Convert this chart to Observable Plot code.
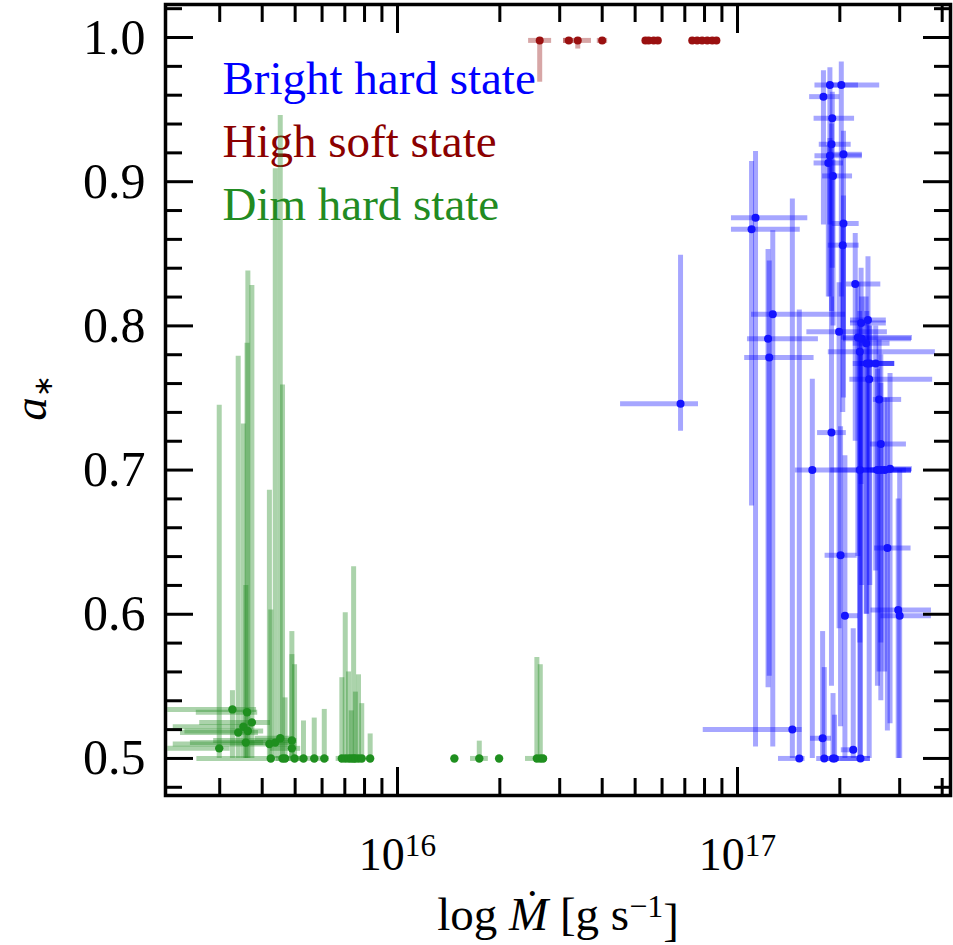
<!DOCTYPE html>
<html><head><meta charset="utf-8">
<script src="https://cdn.jsdelivr.net/npm/d3@7"></script>
<script src="https://cdn.jsdelivr.net/npm/@observablehq/plot@0.6"></script>
<style>body{margin:0;background:#fff;} #chart svg{display:block;}</style>
</head><body><div id="chart"></div>
<script>
const UNIT = 1e15; // accretion rates below are in units of 1e15 g/s
// rows: [Mdot, a*, Mdot_lo, Mdot_hi, a*_lo, a*_hi]
const brightHard = [
 [68.0, 0.746, 45.3, 76.8, 0.727, 0.849],
 [113, 0.875, 96.0, 161, 0.508, 0.921],
 [110, 0.867, 96.0, 153, 0.675, 0.914],
 [127, 0.808, 110, 208, 0.508, 0.866],
 [123, 0.791, 107, 173, 0.549, 0.853],
 [124, 0.778, 105, 168, 0.557, 0.845],
 [145, 0.520, 79.3, 155, 0.5, 0.888],
 [152, 0.500, 132, 158, 0.5, 0.811],
 [166, 0.700, 148, 325, 0.5, 0.763],
 [178, 0.514, 164, 189, 0.5, 0.588],
 [180, 0.500, 171, 246, 0.5, 0.563],
 [191, 0.500, 181, 200, 0.5, 0.545],
 [193, 0.500, 188, 200, 0.5, 0.530],
 [219, 0.506, 202, 225, 0.5, 0.590],
 [230, 0.500, 201, 246, 0.5, 0.780],
 [201, 0.641, 181, 225, 0.522, 0.730],
 [207, 0.599, 203, 227, 0.5, 0.710],
 [276, 0.646, 253, 324, 0.519, 0.750],
 [297, 0.603, 247, 372, 0.5, 0.680],
 [300, 0.599, 264, 372, 0.5, 0.700],
 [189, 0.726, 172, 209, 0.550, 0.820],
 [264, 0.718, 246, 314, 0.540, 0.780],
 [229, 0.700, 188, 264, 0.5, 0.800],
 [258, 0.700, 230, 325, 0.550, 0.770],
 [264, 0.700, 246, 314, 0.580, 0.760],
 [271, 0.700, 251, 325, 0.560, 0.750],
 [281, 0.701, 255, 327, 0.524, 0.767],
 [187, 0.967, 169, 227, 0.870, 0.979],
 [202, 0.967, 188, 262, 0.820, 0.983],
 [179, 0.959, 163, 200, 0.870, 0.977],
 [190, 0.944, 168, 221, 0.840, 0.962],
 [189, 0.926, 174, 216, 0.810, 0.940],
 [187, 0.918, 169, 233, 0.820, 0.930],
 [205, 0.919, 188, 233, 0.790, 0.935],
 [185, 0.913, 168, 205, 0.820, 0.925],
 [191, 0.904, 178, 218, 0.800, 0.915],
 [205, 0.871, 190, 228, 0.750, 0.890],
 [204, 0.856, 185, 228, 0.740, 0.870],
 [222, 0.829, 209, 264, 0.720, 0.864],
 [242, 0.804, 215, 274, 0.700, 0.848],
 [231, 0.802, 215, 274, 0.690, 0.840],
 [199, 0.796, 160, 276, 0.590, 0.830],
 [226, 0.792, 205, 327, 0.640, 0.830],
 [232, 0.791, 205, 325, 0.620, 0.820],
 [239, 0.788, 219, 281, 0.600, 0.820],
 [229, 0.782, 185, 382, 0.580, 0.810],
 [240, 0.774, 219, 290, 0.600, 0.810],
 [245, 0.774, 230, 290, 0.620, 0.800],
 [255, 0.774, 235, 290, 0.630, 0.800],
 [244, 0.763, 214, 375, 0.5, 0.800],
 [261, 0.749, 251, 304, 0.560, 0.790]
];
const highSoft = [
 [26.2, 0.998, 24.3, 28.4, 0.969, 1.0],
 [31.9, 0.998, 30.8, 33.0, 0.998, 1.0],
 [33.9, 0.998, 30.8, 37.2, 0.992, 1.0],
 [40.0, 0.998, 38.7, 41.5, 0.998, 1.0],
 [53.6, 0.998, 53.0, 54.2, 0.998, 1.0],
 [54.8, 0.998, 54.2, 55.4, 0.998, 1.0],
 [56.7, 0.998, 56.0, 57.4, 0.998, 1.0],
 [58.3, 0.998, 57.6, 59.0, 0.998, 1.0],
 [73.6, 0.998, 72.8, 74.4, 0.998, 1.0],
 [76.1, 0.998, 75.3, 76.9, 0.998, 1.0],
 [78.7, 0.998, 77.9, 79.5, 0.998, 1.0],
 [81.5, 0.998, 80.7, 82.3, 0.998, 1.0],
 [84.3, 0.998, 83.5, 85.1, 0.998, 1.0],
 [86.7, 0.998, 85.9, 87.5, 0.998, 1.0]
];
const dimHard = [
 [3.27, 0.534, 2.11, 3.85, 0.5, 0.547],
 [3.61, 0.532, 2.56, 3.88, 0.5, 0.788],
 [3.73, 0.525, 2.62, 4.23, 0.5, 0.828],
 [3.52, 0.522, 2.19, 3.77, 0.5, 0.732],
 [3.40, 0.518, 2.30, 3.90, 0.5, 0.779],
 [3.63, 0.519, 2.37, 4.04, 0.5, 0.838],
 [3.58, 0.511, 2.46, 4.04, 0.5, 0.620],
 [2.99, 0.507, 2.11, 3.22, 0.5, 0.745],
 [4.20, 0.510, 2.19, 5.05, 0.5, 0.686],
 [4.37, 0.511, 3.70, 4.84, 0.5, 0.909],
 [4.52, 0.514, 3.82, 4.84, 0.5, 0.946],
 [4.89, 0.5125, 2.88, 5.06, 0.5, 0.588],
 [4.89, 0.507, 4.23, 5.19, 0.5, 0.572],
 [4.24, 0.5, 2.57, 4.80, 0.5, 0.603],
 [4.59, 0.5, 4.40, 4.80, 0.5, 0.759],
 [4.67, 0.5, 4.50, 4.90, 0.5, 0.542],
 [4.98, 0.5, 4.80, 5.20, 0.5, 0.565],
 [5.29, 0.5, 5.10, 5.50, 0.5, 0.526],
 [5.69, 0.5, 5.50, 5.90, 0.5, 0.528],
 [6.09, 0.5, 5.90, 6.30, 0.5, 0.534],
 [6.86, 0.5, 6.60, 7.10, 0.5, 0.556],
 [7.02, 0.5, 6.80, 7.20, 0.5, 0.601],
 [7.18, 0.5, 7.00, 7.40, 0.5, 0.560],
 [7.31, 0.5, 7.10, 7.50, 0.5, 0.533],
 [7.43, 0.5, 7.20, 7.60, 0.5, 0.633],
 [7.52, 0.5, 7.30, 7.70, 0.5, 0.546],
 [7.68, 0.5, 7.50, 7.90, 0.5, 0.558],
 [7.85, 0.5, 7.60, 8.00, 0.5, 0.538],
 [8.31, 0.5, 8.10, 8.50, 0.5, 0.517],
 [14.7, 0.5, 14.7, 14.7, 0.5, 0.5],
 [17.4, 0.5, 16.4, 18.5, 0.5, 0.512],
 [19.9, 0.5, 19.9, 19.9, 0.5, 0.5],
 [25.7, 0.5, 23.8, 27.6, 0.5, 0.570],
 [26.3, 0.5, 25.8, 26.8, 0.5, 0.565],
 [26.8, 0.5, 26.8, 26.8, 0.5, 0.5]
];
const legendLabels = ["Bright hard state", "High soft state", "Dim hard state"];
const legendColors = ["#0000ff", "#8b0000", "#228b22"];
const xMajorTicks = [1e16, 1e17];
const xMinorTicks = [3e15, 4e15, 5e15, 6e15, 7e15, 8e15, 9e15, 2e16, 3e16, 4e16, 5e16, 6e16, 7e16, 8e16, 9e16, 2e17, 3e17, 4e17];
const yMajorTicks = [0.5, 0.6, 0.7, 0.8, 0.9, 1.0];
const yMinorTicks = [0.48, 0.52, 0.54, 0.56, 0.58, 0.62, 0.64, 0.66, 0.68, 0.72, 0.74, 0.76, 0.78, 0.82, 0.84, 0.86, 0.88, 0.92, 0.94, 0.96, 0.98, 1.02];

const toRows = arr => arr.map(([m, a, mlo, mhi, alo, ahi]) => ({m: m * UNIT, a, mlo: mlo * UNIT, mhi: mhi * UNIT, alo, ahi}));
const groups = [
  {rows: toRows(dimHard), bar: "#228b22", dot: "#1f8f1f", op: 0.38, r: 4.2},
  {rows: toRows(brightHard), bar: "#0000ff", dot: "#1414ff", op: 0.35, r: 4},
  {rows: toRows(highSoft), bar: "#8b0000", dot: "#9a1010", op: 0.35, r: 4}
];

const FS = 47;
const marks = [];
legendLabels.forEach((lab, i) => {
  marks.push(Plot.text([lab], {text: d => d, frameAnchor: "top-left", dx: 57, dy: 56 + 63 * i,
    textAnchor: "start", lineAnchor: "top", fontSize: FS, fill: legendColors[i]}));
});
for (const g of groups) {
  marks.push(Plot.ruleX(g.rows, {x: "m", y1: "alo", y2: "ahi", stroke: g.bar, strokeOpacity: g.op, strokeWidth: 5}));
  marks.push(Plot.ruleY(g.rows, {y: "a", x1: "mlo", x2: "mhi", stroke: g.bar, strokeOpacity: g.op, strokeWidth: 5}));
}
for (const g of groups) {
  marks.push(Plot.dot(g.rows, {x: "m", y: "a", r: g.r, fill: g.dot, stroke: "none"}));
}
// ticks (inward, on all four sides)
const tk = {stroke: "black", strokeWidth: 3, fill: "none", label: null};
marks.push(
  Plot.axisX(xMajorTicks, {...tk, anchor: "bottom", tickSize: 28, dy: -28}),
  Plot.axisX(xMinorTicks, {...tk, anchor: "bottom", tickSize: 17, dy: -17}),
  Plot.axisX(xMajorTicks, {...tk, anchor: "top", tickSize: 28, dy: 28}),
  Plot.axisX(xMinorTicks, {...tk, anchor: "top", tickSize: 17, dy: 17}),
  Plot.axisY(yMajorTicks, {...tk, anchor: "left", tickSize: 28, dx: 28}),
  Plot.axisY(yMinorTicks, {...tk, anchor: "left", tickSize: 17, dx: 17}),
  Plot.axisY(yMajorTicks, {...tk, anchor: "right", tickSize: 28, dx: -28}),
  Plot.axisY(yMinorTicks, {...tk, anchor: "right", tickSize: 17, dx: -17}),
  Plot.axisX(xMajorTicks, {anchor: "bottom", tickSize: 0, tickPadding: 42, stroke: "none", fill: "black",
    fontSize: 46, label: null, tickFormat: d => "10^" + Math.round(Math.log10(d))}),
  Plot.axisY(yMajorTicks, {anchor: "left", tickSize: 0, tickPadding: 20, stroke: "none", fill: "black",
    fontSize: 50, label: null, tickFormat: d => d.toFixed(1)}),
  Plot.frame({stroke: "black", strokeWidth: 3.5})
);

const chart = Plot.plot({
  width: 953, height: 945,
  marginLeft: 165, marginRight: 3, marginTop: 4, marginBottom: 150,
  style: {fontFamily: "'Liberation Serif', 'Times New Roman', serif", background: "white", color: "black"},
  x: {type: "log", domain: [2.078e15, 4.232e17]},
  y: {domain: [0.4743, 1.0229]},
  marks
});
const svg = d3.select(chart);
// superscript exponents for x tick labels
svg.selectAll('g[aria-label="x-axis tick label"] text').each(function() {
  const t = d3.select(this);
  const s = t.text();
  if (!s.includes("^")) return;
  const [b, e] = s.split("^");
  t.text("");
  t.append("tspan").text(b);
  t.append("tspan").attr("dy", "-0.45em").attr("font-size", "0.68em").text(e);
});
// axis titles
const yl = svg.append("text")
  .attr("transform", "translate(46,398) rotate(-90)")
  .attr("text-anchor", "middle").attr("font-size", FS).attr("fill", "black");
yl.append("tspan").attr("font-style", "italic").text("a");
yl.append("tspan").attr("dy", "0.25em").attr("font-size", "0.55em").text("∗");
const xl = svg.append("text")
  .attr("x", 558).attr("y", 930)
  .attr("text-anchor", "middle").attr("font-size", FS).attr("fill", "black");
xl.append("tspan").text("log ");
xl.append("tspan").attr("font-style", "italic").text("Ṁ");
xl.append("tspan").text(" [g s");
xl.append("tspan").attr("dy", "-0.42em").attr("font-size", "0.68em").text("−1");
xl.append("tspan").attr("dy", "0.42em").text("]");
document.getElementById("chart").appendChild(chart);
</script>
</body></html>
